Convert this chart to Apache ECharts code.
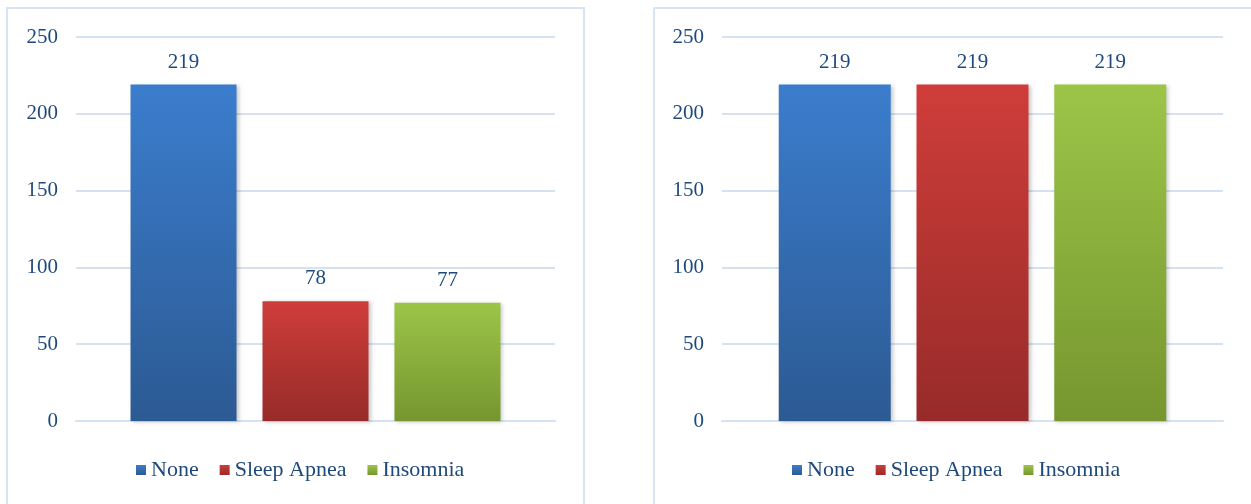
<!DOCTYPE html>
<html>
<head>
<meta charset="utf-8">
<script src="https://cdn.jsdelivr.net/npm/echarts@6/dist/echarts.min.js"></script>
<style>
html,body{margin:0;padding:0;background:#fff;}
#c{width:1251px;height:504px;}
</style>
</head>
<body>
<div id="c"></div>
<script>
// Data
const categories = ['None', 'Sleep Apnea', 'Insomnia'];
const leftValues = [219, 78, 77];
const rightValues = [219, 219, 219];
const yMin = 0, yMax = 250, yStep = 50;

const topColors = ['#3b7dcd', '#cf3d3a', '#9cc548'];
const bottomColors = ['#2c5a93', '#972b29', '#76962f'];
const textColor = '#1f497d';
const gridColor = '#d5e2f2';
const font = '"Liberation Serif", "Times New Roman", serif';

const chart = echarts.init(document.getElementById('c'), null, {renderer: 'canvas'});

function grad(i) {
  return new echarts.graphic.LinearGradient(0, 0, 0, 1, [
    {offset: 0, color: topColors[i]},
    {offset: 1, color: bottomColors[i]}
  ]);
}

function makeSeries(values, axisIndex, barWidth, gap) {
  return categories.map((name, i) => ({
    name: name,
    type: 'bar',
    xAxisIndex: axisIndex,
    yAxisIndex: axisIndex,
    data: [values[i]],
    barWidth: barWidth,
    barGap: gap,
    itemStyle: {
      color: grad(i),
      shadowColor: 'rgba(0,0,0,0.22)',
      shadowBlur: 4,
      shadowOffsetX: 2,
      shadowOffsetY: 1
    },
    label: {
      show: true,
      position: 'top',
      distance: 12,
      color: textColor,
      fontFamily: font,
      fontSize: 21
    },
    emphasis: {disabled: true}
  }));
}

const yAxisBase = (gi) => ({
  type: 'value',
  gridIndex: gi,
  min: yMin,
  max: yMax,
  interval: yStep,
  axisLine: {show: false},
  axisTick: {show: false},
  axisLabel: {color: textColor, fontFamily: font, fontSize: 21, margin: 18},
  splitLine: {lineStyle: {color: gridColor, width: 2}}
});

const xAxisBase = (gi) => ({
  type: 'category',
  gridIndex: gi,
  data: [''],
  axisLine: {lineStyle: {color: gridColor, width: 2}},
  axisTick: {show: false},
  axisLabel: {show: false}
});

const legendBase = (left) => ({
  left: left,
  top: 459,
  padding: 0,
  icon: 'rect',
  itemWidth: 10,
  itemHeight: 10,
  itemGap: 21,
  data: categories,
  textStyle: {color: textColor, fontFamily: font, fontSize: 22},
  selectedMode: false
});

chart.setOption({
  animation: false,
  backgroundColor: '#fff',
  graphic: [
    {type: 'rect', shape: {x: 7, y: 8, width: 577, height: 520}, style: {fill: 'none', stroke: '#d6e4f4', lineWidth: 2}},
    {type: 'rect', shape: {x: 654, y: 8, width: 640, height: 520}, style: {fill: 'none', stroke: '#d6e4f4', lineWidth: 2}}
  ],
  legend: [legendBase(136), legendBase(792)],
  grid: [
    {left: 76, right: 696, top: 37, bottom: 83},
    {left: 722, right: 28, top: 37, bottom: 83}
  ],
  xAxis: [xAxisBase(0), xAxisBase(1)],
  yAxis: [yAxisBase(0), yAxisBase(1)],
  series: [].concat(makeSeries(leftValues, 0, 106, '24.5%'), makeSeries(rightValues, 1, 112, '23%'))
});
</script>
</body>
</html>
